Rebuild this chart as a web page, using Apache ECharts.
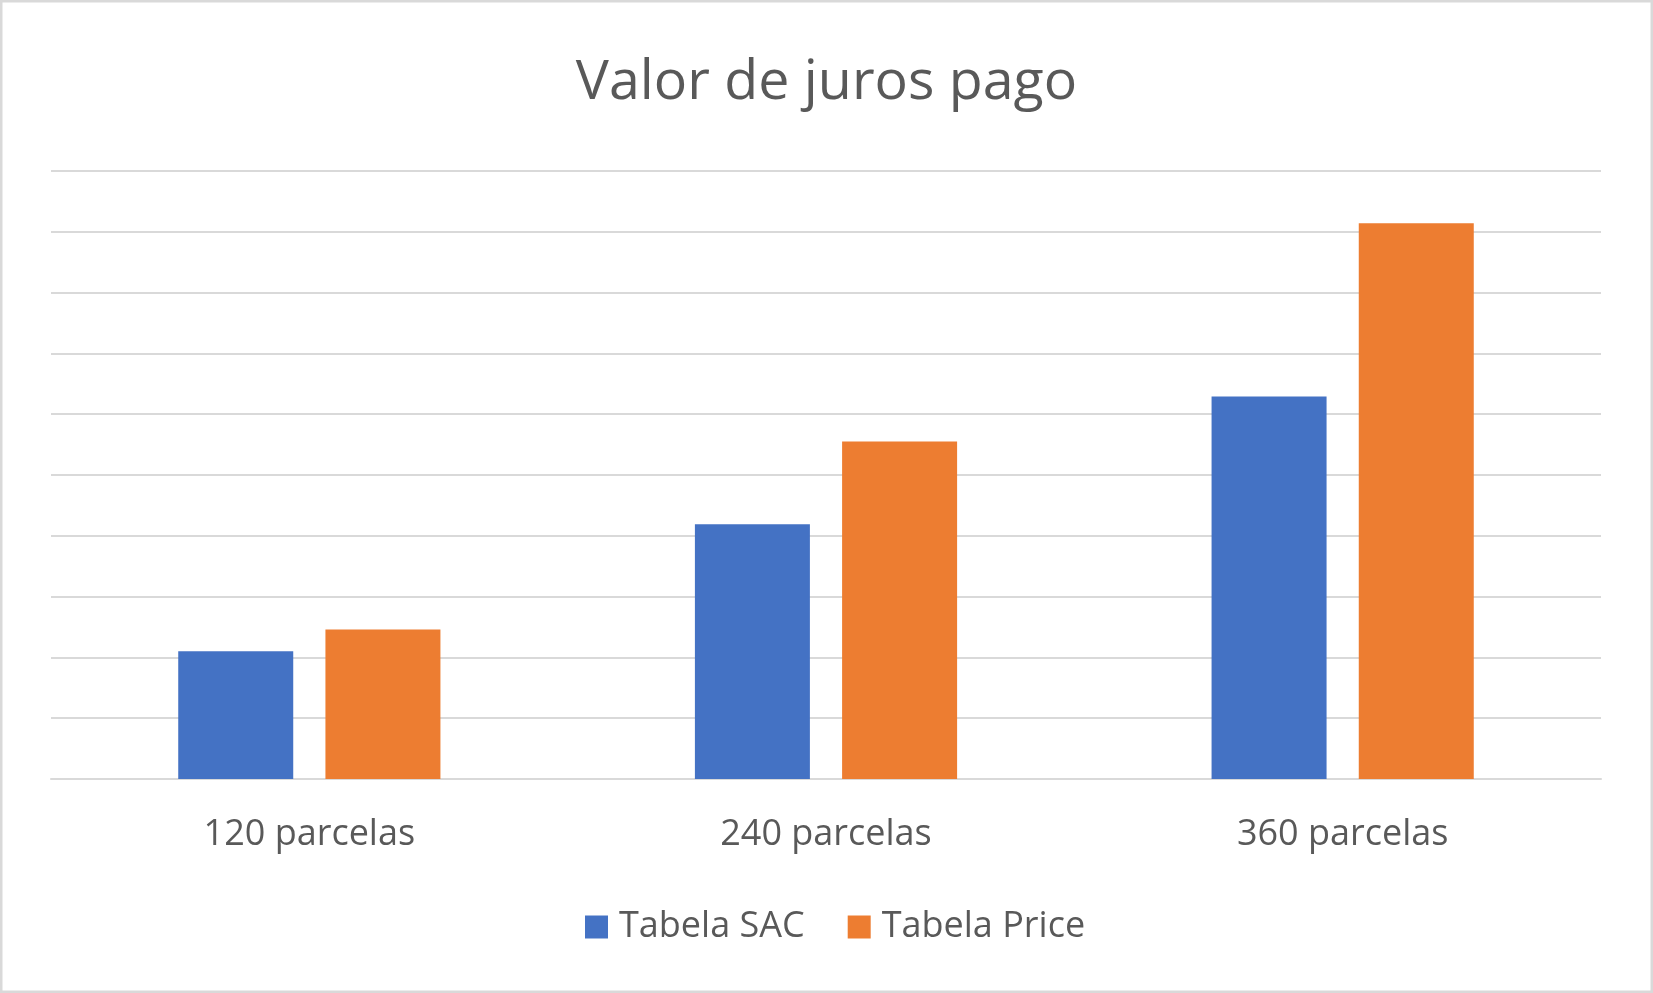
<!DOCTYPE html>
<html>
<head>
    <meta charset="utf-8" />
    <title>Valor de juros pago</title>
    <script src="https://cdn.jsdelivr.net/npm/echarts@6/dist/echarts.min.js"></script>
    <style>
        html, body { margin: 0; padding: 0; background: #fff; }
        #main { width: 1653px; height: 993px; }
    </style>
</head>
<body>
<div id="main"></div>
<script type="text/javascript">
    // dados (unidades = linhas de grade)
    var categorias = ['120 parcelas', '240 parcelas', '360 parcelas'];
    var tabelaSAC = [2.1, 4.19, 6.29];
    var tabelaPrice = [2.46, 5.55, 9.14];
    var nomes = ['Tabela SAC', 'Tabela Price'];

    var fonte = '"Open Sans", sans-serif';
    var cinzaTexto = '#595959';
    var cinzaGrade = '#d9d9d9';

    var myChart = echarts.init(document.getElementById('main'));

    var option = {
        animation: false,
        color: ['#4472C4', '#ED7D31'],
        title: {
            text: 'Valor de juros pago',
            left: 'center',
            top: 48,
            textStyle: {
                fontFamily: fonte,
                fontSize: 55.5,
                fontWeight: 'normal',
                color: cinzaTexto,
                lineHeight: 60
            }
        },
        legend: {
            data: nomes,
            left: 580,
            top: 902,
            padding: 5,
            icon: 'rect',
            itemWidth: 23,
            itemHeight: 23,
            itemGap: 43,
            textStyle: {
                fontFamily: fonte,
                fontSize: 36,
                color: cinzaTexto,
                lineHeight: 40,
                padding: [0, 0, 0, 6]
            }
        },
        grid: {
            left: 51,
            right: 52,
            top: 171,
            bottom: 214,
            containLabel: false
        },
        xAxis: {
            type: 'category',
            data: categorias,
            axisTick: { show: false },
            axisLine: { lineStyle: { color: cinzaGrade, width: 2 } },
            axisLabel: {
                margin: 36,
                fontFamily: fonte,
                fontSize: 36,
                color: cinzaTexto,
                lineHeight: 40
            }
        },
        yAxis: {
            type: 'value',
            min: 0,
            max: 10,
            interval: 1,
            axisLabel: { show: false },
            axisLine: { show: false },
            axisTick: { show: false },
            splitLine: { lineStyle: { color: cinzaGrade, width: 2 } }
        },
        series: [
            {
                name: nomes[0],
                type: 'bar',
                data: tabelaSAC,
                barWidth: 115,
                barGap: '28%'
            },
            {
                name: nomes[1],
                type: 'bar',
                data: tabelaPrice,
                barWidth: 115,
                barGap: '28%'
            }
        ],
        graphic: [{
            type: 'rect',
            shape: { x: 1, y: 1, width: 1651, height: 991 },
            style: { fill: 'none', stroke: cinzaGrade, lineWidth: 3 },
            silent: true
        }]
    };

    myChart.setOption(option);
</script>
</body>
</html>
